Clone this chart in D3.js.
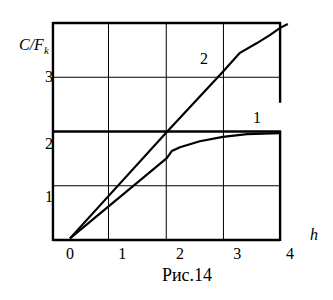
<html>
<head>
<meta charset="utf-8">
<title>Рис.14</title>
<style>
  body { margin: 0; background: #fff; }
</style>
</head>
<body>
<svg width="333" height="300"></svg>
<script src="https://d3js.org/d3.v7.min.js"></script>
<script>
// curve 2 : h, C/Fk
var h2 = [0, 1.76, 2.78, 3.09, 3.40, 3.64, 3.82, 3.96];
var v2 = [0.03, 1.99, 3.10, 3.45, 3.63, 3.78, 3.91, 3.98];
// curve 1
var h1 = [0, 1.76, 1.85, 2.0, 2.36, 2.78, 3.22, 3.82];
var v1 = [0.03, 1.51, 1.64, 1.71, 1.82, 1.90, 1.95, 1.97];

var xTicks = [0, 1, 2, 3, 4];
var xTickAt = [0, 0.95, 2.0, 3.04, 4.0];   // where the printed labels sit
var yTicks = ["1", "2", "3"];
var yTickAt = [0.8, 1.77, 3.0];
var xGrid = [0.7, 1.75, 2.79];
var yGrid = [1, 3];
var xFrame = [-0.31, 3.82];
var yFrame = [0, 4];
var yThick = 2;      // thick line across the middle
var rightGap = 2.53; // right border stops here above the middle line

var serif = "'Liberation Serif', 'Times New Roman', serif";
var svg = d3.select('svg');
var x = d3.scaleLinear().domain([0, 4]).range([70, 290]);
var y = d3.scaleLinear().domain([0, 4]).range([240, 23]);

var x0 = x(xFrame[0]), x1 = x(xFrame[1]);
var y0 = y(yFrame[0]), y1 = y(yFrame[1]);

// thin grid
svg.selectAll('.gx').data(xGrid).enter().append('line')
  .attr('x1', function(d){ return x(d); }).attr('x2', function(d){ return x(d); })
  .attr('y1', y0).attr('y2', y1)
  .attr('stroke', '#000').attr('stroke-width', 1);
svg.selectAll('.gy').data(yGrid).enter().append('line')
  .attr('x1', x0).attr('x2', x1)
  .attr('y1', function(d){ return y(d); }).attr('y2', function(d){ return y(d); })
  .attr('stroke', '#000').attr('stroke-width', 1);

// thick frame lines
function thick(ax, ay, bx, by) {
  svg.append('line').attr('x1', ax).attr('y1', ay).attr('x2', bx).attr('y2', by)
    .attr('stroke', '#000').attr('stroke-width', 2.4);
}
thick(x0, y0 + 1, x0, y1 - 1);
thick(x0, y0, x1, y0);
thick(x0, y1, x1 + 1, y1);
thick(x0, y(yThick), x1 + 1, y(yThick));
thick(x1, y1, x1, y(rightGap));
thick(x1, y(yThick), x1, y0 + 1);

// curves
var line = d3.line().x(function(d){ return x(d[0]); }).y(function(d){ return y(d[1]); });
[[h1, v1], [h2, v2]].forEach(function(c) {
  svg.append('path')
    .attr('d', line(d3.zip(c[0], c[1])))
    .attr('fill', 'none').attr('stroke', '#000')
    .attr('stroke-width', 2.2).attr('stroke-linejoin', 'round');
});

function label(t, px, py, size) {
  return svg.append('text').text(t).attr('x', px).attr('y', py)
    .attr('font-family', serif).attr('font-size', size).attr('fill', '#000');
}

// tick labels
xTicks.forEach(function(d, i) {
  label(d, x(xTickAt[i]), 259, '16px').attr('text-anchor', 'middle');
});
yTicks.forEach(function(d, i) {
  label(d, 53, y(yTickAt[i]) + 5, '16px').attr('text-anchor', 'end');
});

// curve labels
label('2', 204, 64, '16px').attr('text-anchor', 'middle');
label('1', 257, 123, '16px').attr('text-anchor', 'middle');

// axis titles
var yl = label('', 19, 50, '16px').attr('font-style', 'italic');
yl.append('tspan').text('C/F');
yl.append('tspan').text('k').attr('font-size', '11px').attr('dy', 4);
label('h', 314, 240, '16px').attr('text-anchor', 'middle').attr('font-style', 'italic');

label('Рис.14', 187, 281, '18px').attr('text-anchor', 'middle');
</script>
</body>
</html>
